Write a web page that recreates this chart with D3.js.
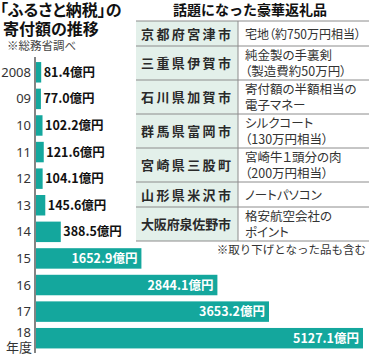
<!DOCTYPE html>
<html><head><meta charset="utf-8">
<script src="https://cdn.jsdelivr.net/npm/d3@7"></script>
<style>
html,body{margin:0;padding:0;background:#fff;}
svg{display:block;font-family:"Noto Sans CJK JP","Noto Sans",sans-serif;}
</style></head>
<body><svg id="c" width="370" height="357"></svg>
<script>
// ---- data ----
const titleLines = ["「ふるさと納税」の", "寄付額の推移"];
const sourceNote = "※総務省調べ";
const years = ["2008","09","10","11","12","13","14","15","16","17","18"];
const values = [81.4, 77.0, 102.2, 121.6, 104.1, 145.6, 388.5, 1652.9, 2844.1, 3653.2, 5127.1];
const unit = "億円";
const yearUnit = "年度";
const tableTitle = "話題になった豪華返礼品";
const cities = ["京都府宮津市","三重県伊賀市","石川県加賀市","群馬県富岡市","宮崎県三股町","山形県米沢市","大阪府泉佐野市"];
const gifts = [
  ["宅地（約750万円相当）"],
  ["純金製の手裏剣","（製造費約50万円）"],
  ["寄付額の半額相当の","電子マネー"],
  ["シルクコート","（130万円相当）"],
  ["宮崎牛１頭分の肉","（200万円相当）"],
  ["ノートパソコン"],
  ["格安航空会社の","ポイント"]
];
const tableNote = "※取り下げとなった品も含む";

// ---- drawing ----
const svg = d3.select("#c");
const teal = "#14a79d";

// title
svg.append("text").attr("x", 0).attr("y", 16)
  .attr("font-size", 16).attr("font-weight", "bold").attr("fill", "#111")
  .style("font-feature-settings", "'palt'")
  .text(titleLines[0]);
svg.append("text").attr("x", 3).attr("y", 34.5)
  .attr("font-size", 16).attr("font-weight", "bold").attr("fill", "#111")
  .style("font-feature-settings", "'palt'")
  .text(titleLines[1]);
svg.append("text").attr("x", 7).attr("y", 50)
  .attr("font-size", 11.5).attr("fill", "#444")
  .text(sourceNote);

// scales
const x = d3.scaleLinear().domain([0, 5127.1]).range([36, 363]);
const y = d3.scaleBand().domain(years).range([59, 351.5]).paddingInner(0.23).paddingOuter(0.115);

// bars
svg.append("g").selectAll("rect").data(values).join("rect")
  .attr("x", x(0)).attr("y", (d,i) => y(years[i]))
  .attr("width", d => x(d) - x(0)).attr("height", y.bandwidth())
  .attr("fill", teal);

// axis line
svg.append("line").attr("x1", 35).attr("x2", 35).attr("y1", 57).attr("y2", 353)
  .attr("stroke", "#333").attr("stroke-width", 1.2);

// year labels
years.forEach((yr, i) => {
  const cy = y(yr) + y.bandwidth()/2;
  const last = i === years.length - 1;
  svg.append("text").attr("x", 31).attr("y", last ? cy - 1.5 : cy + 4.5)
    .attr("text-anchor", "end").attr("font-size", 13).attr("fill", "#333")
    .attr("font-family", "'Noto Sans', 'Open Sans', sans-serif")
    .text(yr);
  if (last) {
    svg.append("text").attr("x", 32).attr("y", cy + 13.5)
      .attr("text-anchor", "end").attr("font-size", 13).attr("fill", "#333")
      .text(yearUnit);
  }
});

// value labels
values.forEach((v, i) => {
  const cy = y(years[i]) + y.bandwidth()/2;
  const t = svg.append("text").attr("y", cy + 4.5)
    .attr("font-size", 12.5).attr("font-weight", "bold")
    .text(v.toFixed(1) + unit);
  const w = t.node().getComputedTextLength();
  const bw = x(v) - x(0);
  if (bw > w + 10) {
    t.attr("x", x(v) - 4).attr("text-anchor", "end").attr("fill", "#fff");
  } else {
    t.attr("x", x(v) + 2.5).attr("fill", "#111");
  }
});

// table
const tx0 = 136, tx1 = 238, tx2 = 369;
let ty = 21;
svg.append("text").attr("x", 250).attr("y", 14.5).attr("text-anchor", "middle")
  .attr("font-size", 14).attr("font-weight", "bold").attr("fill", "#111")
  .text(tableTitle);
const rowTops = [];
cities.forEach((c, i) => {
  const h = gifts[i].length === 1 ? 25 : 34;
  rowTops.push([ty, h]);
  ty += h;
});
const tbl = svg.append("g");
tbl.append("rect").attr("x", tx0).attr("y", 21).attr("width", tx1 - tx0).attr("height", ty - 21)
  .attr("fill", "#e3f0ea");
rowTops.forEach(([top, h], i) => {
  const mid = top + h/2;
  tbl.append("text").attr("x", 141).attr("y", mid - 0.5)
    .attr("dominant-baseline", "central")
    .attr("font-size", 13).attr("font-weight", "bold").attr("fill", "#2a2a2a")
    .attr("textLength", 90).attr("lengthAdjust", "spacing")
    .text(cities[i]);
  const lines = gifts[i];
  lines.forEach((ln, j) => {
    const off = lines.length === 1 ? 0 : (j === 0 ? -8 : 8);
    const t = tbl.append("text").attr("x", 245).attr("y", mid - 0.5 + off)
      .attr("dominant-baseline", "central")
      .attr("font-size", 12.5).attr("fill", "#333")
      .style("font-feature-settings", "'palt'")
      .text(ln);
    if (t.node().getComputedTextLength() > 116) t.attr("textLength", 116).attr("lengthAdjust", "spacingAndGlyphs");
  });
});
// borders
const borders = [21].concat(rowTops.map(([t, h]) => t + h));
tbl.selectAll("line.h").data(borders).join("line")
  .attr("x1", tx0).attr("x2", tx2).attr("y1", d => d).attr("y2", d => d)
  .attr("stroke", "#8c8c8c").attr("stroke-width", 1);
tbl.append("line").attr("x1", tx1).attr("x2", tx1).attr("y1", 21).attr("y2", ty)
  .attr("stroke", "#8c8c8c").attr("stroke-width", 1);

svg.append("text").attr("x", 366).attr("y", ty + 13).attr("text-anchor", "end")
  .attr("font-size", 11.5).attr("fill", "#333")
  .text(tableNote);
</script>
</body></html>
